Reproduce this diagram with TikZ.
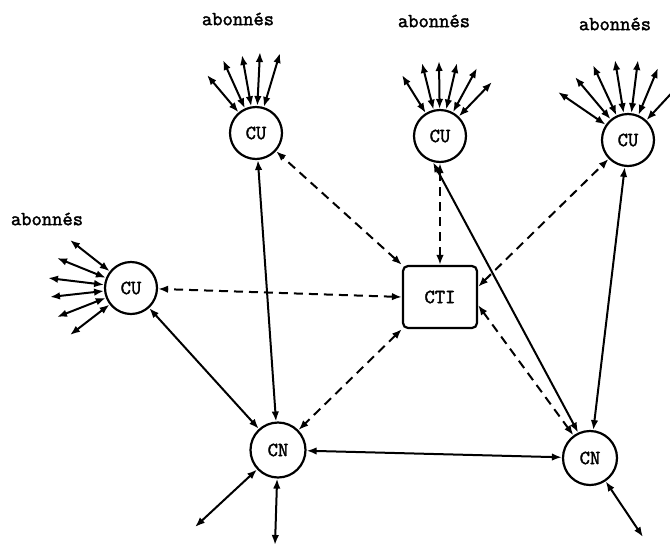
\documentclass[tikz,border=0pt]{standalone}
\usepackage{fontspec}
\newfontfamily\tw{Latin Modern Mono}[FakeBold=2]
\usetikzlibrary{arrows.meta}
\begin{document}
\begin{tikzpicture}[x=1pt,y=-1pt,
  every node/.style={font=\tw\fontsize{20}{22}\selectfont},
  unit/.style={circle, draw, line width=2.2pt, minimum size=52pt, inner sep=0pt},
  ctibox/.style={draw, line width=2.2pt, rounded corners=5pt, minimum width=74pt, minimum height=62pt},
  link/.style={line width=2pt, {Latex[length=10pt,width=7.5pt]}-{Latex[length=10pt,width=7.5pt]}},
  ctl/.style={link, dash pattern=on 9pt off 6pt},
  lbl/.style={inner sep=0pt}]
\useasboundingbox (0,0) rectangle (670,550);
% nodes
\node[unit] (cu1) at (256,133) {CU};
\node[unit] (cu2) at (440,136) {CU};
\node[unit] (cu3) at (628,140) {CU};
\node[unit] (cu4) at (131,288) {CU};
\node[ctibox] (cti) at (440,297) {CTI};
\node[unit, minimum size=55pt] (cn1) at (278,450) {CN};
\node[unit, minimum size=54pt] (cn2) at (590,458) {CN};
% labels
\node[lbl] (l1) at (238,19) {abonnés};
\node[lbl] (l2) at (434,21) {abonnés};
\node[lbl] (l3) at (615,24) {abonnés};
\node[lbl] (l4) at (47,219) {abonnés};
% subscriber endpoints
\foreach \i/\x/\y in {1/207/75,2/223/60,3/242/55,4/260/52,5/280/53}
  {\coordinate (a\i) at (\x,\y); \draw[link] (cu1) -- (a\i);}
\foreach \i/\x/\y in {1/402/75,2/422/63,3/439/61,4/457/63,5/477/68,6/492/82}
  {\coordinate (b\i) at (\x,\y); \draw[link] (cu2) -- (b\i);}
\foreach \i/\x/\y in {1/558/92,2/575/77,3/593/65,4/615/60,5/638/60,6/658/68,7/680/84}
  {\coordinate (c\i) at (\x,\y); \draw[link] (cu3) -- (c\i);}
\foreach \i/\x/\y in {1/70/240,2/57/258,3/48/278,4/50/297,5/57/317,6/70/335}
  {\coordinate (d\i) at (\x,\y); \draw[link] (cu4) -- (d\i);}
\coordinate (e1) at (195,527);
\coordinate (e2) at (275,545);
\coordinate (e3) at (643,537);
\draw[link] (cn1) -- (e1);
\draw[link] (cn1) -- (e2);
\draw[link] (cn2) -- (e3);
% solid trunks
\draw[link] (cu1) -- (cn1);
\draw[link] (cu2.-105) -- (cn2.115);
\draw[link] (cu3) -- (cn2);
\draw[link] (cu4) -- (cn1);
\draw[link] (cn1) -- (cn2);
% dashed control links
\draw[ctl] (cti.north west) -- (cu1);
\draw[ctl] (cti.north) -- (cu2);
\draw[ctl] (cti.15) -- (cu3);
\draw[ctl] (cti.west) -- (cu4);
\draw[ctl] (cti.south west) -- (cn1);
\draw[ctl] (cti.-12) -- (cn2);
\end{tikzpicture}
\end{document}
